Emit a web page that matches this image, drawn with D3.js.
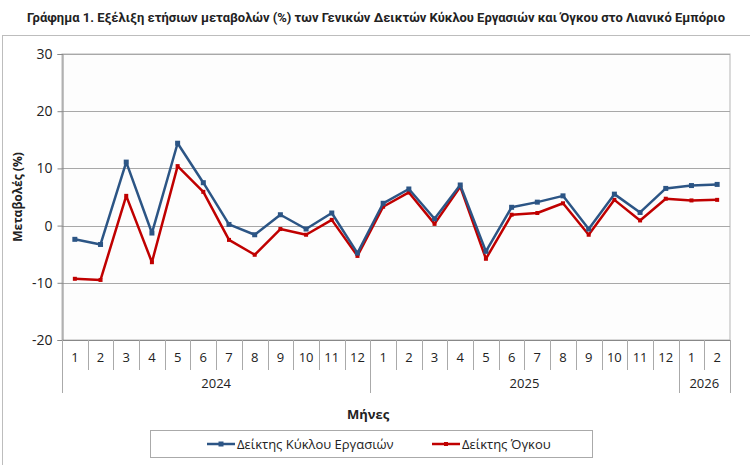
<!DOCTYPE html>
<html>
<head>
<meta charset="utf-8">
<script src="https://cdn.jsdelivr.net/npm/d3@7"></script>
<style>
  body { margin: 0; background: #fff; }
  text { font-family: "Open Sans", sans-serif; fill: #222; }
</style>
</head>
<body>
<svg id="chart" width="750" height="465"></svg>
<script>
// months per year, as on the x axis
const years = ["2024", "2025", "2026"];
const monthsPerYear = [12, 12, 2];
const yTicks = [-20, -10, 0, 10, 20, 30];

// yearly change (%)
const turnover = [-2.4, -3.3, 11.1, -1.3, 14.4, 7.5, 0.2, -1.6, 1.9, -0.6, 2.2, -4.8,
                  3.9, 6.4, 1.2, 7.1, -4.5, 3.2, 4.1, 5.2, -0.6, 5.5, 2.3, 6.5,
                  7.0, 7.2];
const volume = [-9.3, -9.5, 5.2, -6.4, 10.4, 5.9, -2.5, -5.1, -0.6, -1.6, 1.0, -5.3,
                3.3, 5.8, 0.3, 6.8, -5.8, 1.9, 2.2, 3.9, -1.6, 4.5, 0.9, 4.7,
                4.4, 4.5];

const blue = "#2c5585", red = "#c00000";

// build category list
var cats = [];
years.forEach((y, i) => {
  for (let m = 1; m <= monthsPerYear[i]; m++) cats.push({ year: y, month: m });
});

const svg = d3.select("#chart");
const pLeft = 62, pRight = 730, pTop = 54, pBottom = 340;

var x = d3.scaleBand().domain(d3.range(cats.length)).range([pLeft, pRight]);
var y = d3.scaleLinear().domain([-20, 30]).range([pBottom, pTop]);

// outer frame
svg.append("rect").attr("x", 2.5).attr("y", 35.5).attr("width", 760).attr("height", 440)
  .attr("fill", "none").attr("stroke", "#bdbdbd");

svg.append("text").attr("x", 376).attr("y", 22).attr("text-anchor", "middle")
  .style("font-family", "Roboto, sans-serif")
  .style("font-size", "12.5px").style("font-weight", "bold")
  .attr("textLength", 698).attr("lengthAdjust", "spacingAndGlyphs")
  .text("Γράφημα 1. Εξέλιξη ετήσιων μεταβολών (%) των Γενικών Δεικτών Κύκλου Εργασιών και Όγκου στο Λιανικό Εμπόριο");

// plot area
svg.append("rect").attr("x", pLeft).attr("y", pTop).attr("width", pRight - pLeft).attr("height", pBottom - pTop)
  .attr("fill", "#fdfdfd").attr("stroke", "#b5b5b5");

svg.append("g").selectAll("line").data(yTicks).enter().append("line")
  .attr("x1", pLeft).attr("x2", pRight)
  .attr("y1", d => Math.round(y(d)) + 0.5).attr("y2", d => Math.round(y(d)) + 0.5)
  .attr("stroke", "#a8a8a8");

// y axis
var yAxis = d3.axisLeft(y).tickValues(yTicks).tickSize(5).tickPadding(5)
  .tickFormat(d => String(d));
var ya = svg.append("g").attr("transform", `translate(${pLeft + 0.5},0)`).call(yAxis);
ya.select(".domain").attr("stroke", "#888");
ya.selectAll(".tick line").attr("stroke", "#888");
ya.selectAll(".tick text").style("font-size", "14px").style("font-family", "'Open Sans', sans-serif").attr("fill", "#222");

svg.append("text").attr("transform", `translate(22,${y(5)}) rotate(-90)`)
  .attr("text-anchor", "middle").style("font-size", "12px").style("font-weight", "bold")
  .text("Μεταβολές  (%)");

// x axis: bottom line, month dividers, year dividers
svg.append("line").attr("x1", pLeft).attr("x2", pRight).attr("y1", pBottom + 0.5).attr("y2", pBottom + 0.5)
  .attr("stroke", "#888");

var monthG = svg.append("g");
monthG.selectAll("line").data(cats).enter().append("line")
  .attr("x1", (d, i) => Math.round(x(i)) + 0.5).attr("x2", (d, i) => Math.round(x(i)) + 0.5)
  .attr("y1", pBottom).attr("y2", (d, i) => d.month === 1 ? 393 : 370)
  .attr("stroke", "#aaa");
monthG.append("line").attr("x1", pRight + 0.5).attr("x2", pRight + 0.5)
  .attr("y1", pBottom).attr("y2", 393).attr("stroke", "#aaa");
monthG.selectAll("text").data(cats).enter().append("text")
  .attr("x", (d, i) => x(i) + x.bandwidth() / 2).attr("y", 362)
  .attr("text-anchor", "middle").style("font-size", "13px")
  .text(d => d.month);

var start = 0;
years.forEach((yr, i) => {
  var n = monthsPerYear[i];
  svg.append("text").attr("x", (x(start) + x(start + n - 1) + x.bandwidth()) / 2).attr("y", 388)
    .attr("text-anchor", "middle").style("font-size", "13px").text(yr);
  start += n;
});

svg.append("text").attr("x", 368).attr("y", 419).attr("text-anchor", "middle")
  .style("font-size", "13px").style("font-weight", "bold").text("Μήνες");

// series
var cx = i => x(i) + x.bandwidth() / 2;
var series = [
  { name: "Δείκτης Κύκλου Εργασιών", values: turnover, color: blue, size: 5 },
  { name: "Δείκτης Όγκου", values: volume, color: red, size: 4 }
];
var line = d3.line().x((d, i) => cx(i)).y(d => y(d));

series.slice().reverse().forEach(s => {
  var g = svg.append("g");
  g.append("path").datum(s.values).attr("d", line).attr("fill", "none")
    .attr("stroke", s.color).attr("stroke-width", 2.5).attr("stroke-linejoin", "round");
  g.selectAll("rect").data(s.values).enter().append("rect")
    .attr("x", (d, i) => cx(i) - s.size / 2).attr("y", d => y(d) - s.size / 2)
    .attr("width", s.size).attr("height", s.size).attr("fill", s.color);
});

// legend
var lg = svg.append("g");
lg.append("rect").attr("x", 150.5).attr("y", 430.5).attr("width", 442).attr("height", 27)
  .attr("fill", "#fff").attr("stroke", "#aaa");
var lx = [207, 432];
series.forEach((s, i) => {
  lg.append("line").attr("x1", lx[i]).attr("x2", lx[i] + 28).attr("y1", 444).attr("y2", 444)
    .attr("stroke", s.color).attr("stroke-width", 2.5);
  lg.append("rect").attr("x", lx[i] + 14 - s.size / 2).attr("y", 444 - s.size / 2)
    .attr("width", s.size).attr("height", s.size).attr("fill", s.color);
  lg.append("text").attr("x", lx[i] + 30).attr("y", 448.5).style("font-size", "13px").text(s.name);
});
</script>
</body>
</html>
